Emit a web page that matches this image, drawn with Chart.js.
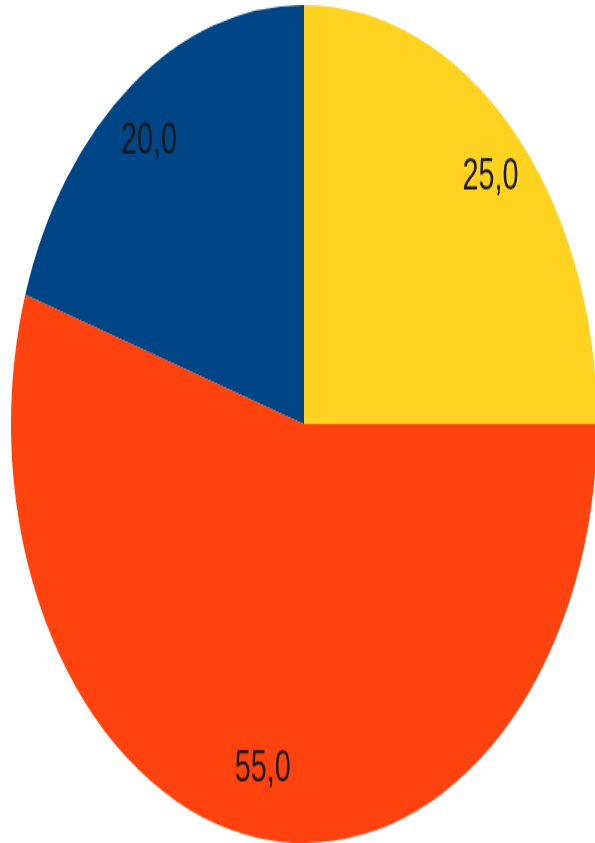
<!DOCTYPE html>
<html>
<head>
<meta charset="utf-8">
<script src="https://cdn.jsdelivr.net/npm/chart.js@4"></script>
<style>
  html, body { margin: 0; padding: 0; background: #fff; overflow: hidden; }
  #wrap { position: relative; width: 595px; height: 843px; overflow: hidden; }
  #box { position: absolute; left: 11px; top: 5px; width: 586px; height: 586px;
         transform: scaleY(1.43); transform-origin: 0 0; }
</style>
</head>
<body>
<div id="wrap">
  <div id="box"><canvas id="result" width="586" height="586"></canvas></div>
</div>
<script>
// slices in drawing order, clockwise from the top
const categories = ['C', 'B', 'A'];
const values = [25, 55, 20];
const sliceColors = ['#ffd320', '#ff420e', '#004586'];

// value labels written inside each slice, e.g. "25,0"
const valueLabels = {
    id: 'valueLabels',
    afterDatasetsDraw (chart) {
        let ctx = chart.ctx;
        let meta = chart.getDatasetMeta(0);
        meta.data.forEach((arc, i) => {
            let mid = (arc.startAngle + arc.endAngle) / 2;
            let x = arc.x + Math.cos(mid) * arc.outerRadius * 0.9;
            let y = arc.y + Math.sin(mid) * arc.outerRadius * 0.835;
            ctx.save();
            ctx.translate(x, y);
            ctx.scale(0.9, 1);
            ctx.font = '32px "Liberation Sans", Arial, sans-serif';
            ctx.fillStyle = '#1a1a1a';
            ctx.textAlign = 'center';
            ctx.textBaseline = 'middle';
            ctx.fillText(values[i].toFixed(1).replace('.', ','), 0, 0);
            ctx.restore();
        });
    }
};

function mountChart () {
    let ctx = document.getElementById('result').getContext('2d');
    new Chart(ctx, {
        type: 'pie',
        data: {
            labels: categories,
            datasets: [{
                data: values,
                backgroundColor: sliceColors,
                borderWidth: 0
            }]
        },
        options: {
            responsive: false,
            animation: false,
            devicePixelRatio: 1,
            layout: { padding: 0 },
            plugins: {
                legend: { display: false },
                tooltip: { enabled: false }
            }
        },
        plugins: [valueLabels]
    });
}

mountChart();
</script>
</body>
</html>
